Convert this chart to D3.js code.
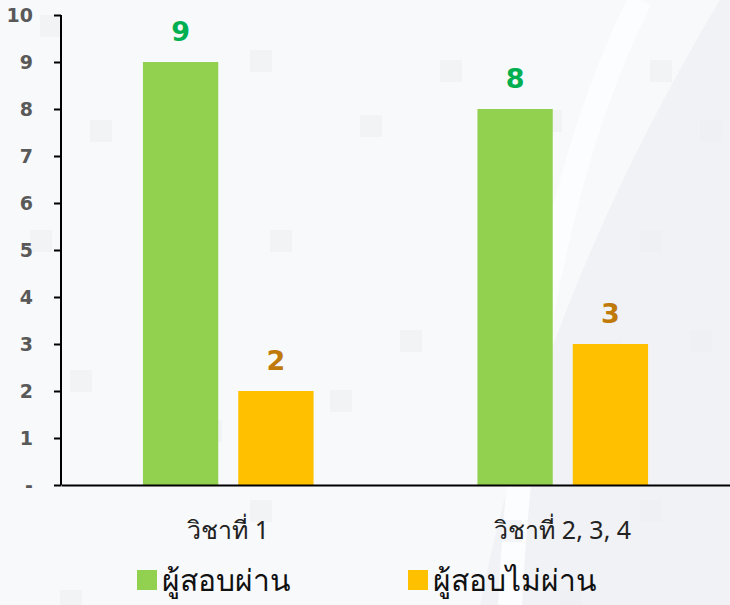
<!DOCTYPE html>
<html>
<head>
<meta charset="utf-8">
<script src="https://cdn.jsdelivr.net/npm/d3@7"></script>
<style>
  body { margin: 0; background: #f7f8fa; }
  svg { display: block; }
</style>
</head>
<body>
<svg width="730" height="605"></svg>
<script>
// data
var categories = ["วิชาที่ 1", "วิชาที่ 2, 3, 4"];
var seriesNames = ["ผู้สอบผ่าน", "ผู้สอบไม่ผ่าน"];
var passed = [9, 8];
var failed = [2, 3];
var yTicks = [0, 1, 2, 3, 4, 5, 6, 7, 8, 9, 10];

var colors = ["#92d050", "#ffc000"];
var labelColors = ["#00b050", "#c07a0c"];

var svg = d3.select("svg");
var width = 730, height = 605;
var plotLeft = 61, plotRight = 730, plotTop = 15, plotBottom = 485;

// faint background pattern
var bg = svg.append("g");
bg.append("rect").attr("width", width).attr("height", height).attr("fill", "#f8f9fb");
bg.append("path")
  .attr("d", "M580,0 L730,0 L730,605 L480,605 Q540,300 720,0 Z")
  .attr("fill", "#f0f2f5");
bg.append("path")
  .attr("d", "M640,0 Q530,220 510,605")
  .attr("fill", "none").attr("stroke", "#fcfdfe").attr("stroke-width", 24);
var sq = [[40,15],[250,50],[440,60],[90,120],[360,115],[540,110],[650,60],[30,230],[150,270],[270,230],[400,330],[480,280],[640,230],[700,120],
          [70,370],[200,420],[330,390],[600,340],[690,330],[250,500],[60,590],[500,520],[640,500],[560,590]];
bg.selectAll(".sq").data(sq).enter().append("rect")
  .attr("x", function(d) { return d[0]; }).attr("y", function(d) { return d[1]; })
  .attr("width", 22).attr("height", 22).attr("fill", "#eceef2").attr("opacity", 0.6);

var x0 = d3.scaleBand().domain(categories).range([plotLeft, plotRight]).paddingInner(0.49).paddingOuter(0.245);
var x1 = d3.scaleBand().domain(seriesNames).range([0, x0.bandwidth()]).paddingInner(0.21);
var y = d3.scaleLinear().domain([0, 10]).range([plotBottom, plotTop]);

var rows = categories.map(function(c, i) {
  return { cat: c, values: [passed[i], failed[i]] };
});

// bars
var group = svg.selectAll(".group").data(rows).enter().append("g")
  .attr("class", "group")
  .attr("transform", function(d) { return "translate(" + x0(d.cat) + ",0)"; });

group.selectAll("rect").data(function(d) { return d.values; }).enter().append("rect")
  .attr("x", function(d, i) { return x1(seriesNames[i]); })
  .attr("y", function(d) { return y(d); })
  .attr("width", x1.bandwidth())
  .attr("height", function(d) { return plotBottom - y(d); })
  .attr("fill", function(d, i) { return colors[i]; });

group.selectAll("text").data(function(d) { return d.values; }).enter().append("text")
  .attr("x", function(d, i) { return x1(seriesNames[i]) + x1.bandwidth() / 2; })
  .attr("y", function(d) { return y(d) - 21; })
  .attr("text-anchor", "middle")
  .attr("font-family", "DejaVu Sans, sans-serif")
  .attr("font-weight", "bold")
  .attr("font-size", 27)
  .attr("fill", function(d, i) { return labelColors[i]; })
  .text(function(d) { return d; });

// y axis
var yAxis = d3.axisLeft(y).tickValues(yTicks).tickSize(7).tickPadding(21)
  .tickFormat(function(d) { return d === 0 ? "-" : d; });
var ya = svg.append("g").attr("transform", "translate(" + plotLeft + ",0)").call(yAxis);
ya.select(".domain").attr("stroke", "#000").attr("stroke-width", 2).attr("d", "M0," + plotTop + "V" + plotBottom);
ya.selectAll(".tick line").attr("stroke", "#000").attr("stroke-width", 2);
ya.selectAll(".tick text")
  .attr("font-family", "DejaVu Sans, sans-serif").attr("font-weight", "bold")
  .attr("font-size", 19).attr("fill", "#595959");

// x axis
var xAxis = d3.axisBottom(x0).tickSize(0).tickPadding(36);
var xa = svg.append("g").attr("transform", "translate(0," + plotBottom + ")").call(xAxis);
xa.select(".domain").attr("stroke", "#000").attr("stroke-width", 2);
xa.selectAll(".tick text")
  .attr("font-family", "Noto Sans, DejaVu Sans, sans-serif")
  .attr("font-size", 25).attr("fill", "#222");

// legend
var legendX = [137, 408];
var legend = svg.selectAll(".legend").data(seriesNames).enter().append("g")
  .attr("class", "legend")
  .attr("transform", function(d, i) { return "translate(" + legendX[i] + ",570)"; });
legend.append("rect").attr("width", 20).attr("height", 20)
  .attr("fill", function(d, i) { return colors[i]; });
legend.append("text").attr("x", 25).attr("y", 21)
  .attr("font-family", "Noto Sans, DejaVu Sans, sans-serif")
  .attr("font-size", 30).attr("fill", "#111")
  .text(function(d) { return d; });
</script>
</body>
</html>
